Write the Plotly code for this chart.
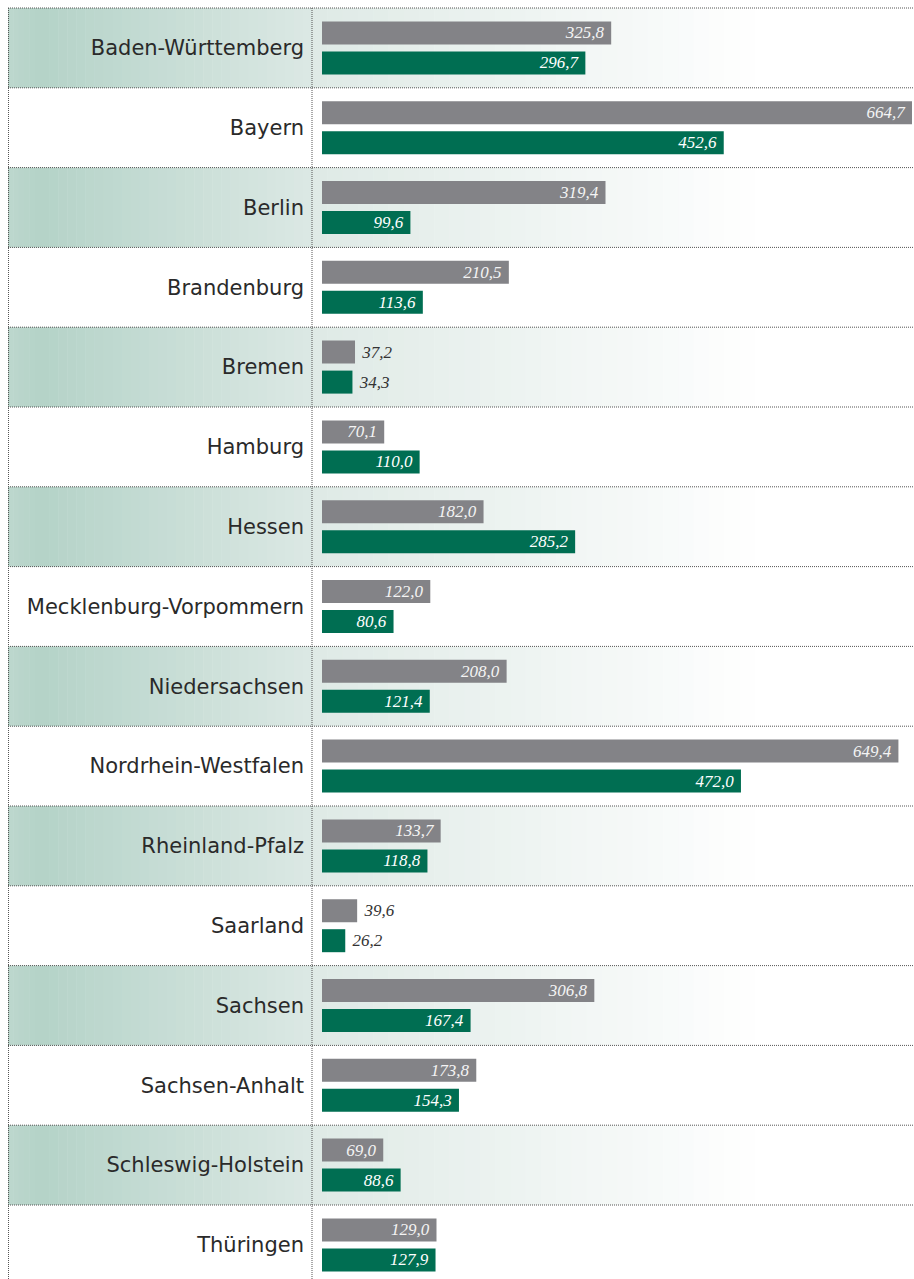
import plotly.graph_objects as go

states = ["Baden-Württemberg", "Bayern", "Berlin", "Brandenburg", "Bremen", "Hamburg",
          "Hessen", "Mecklenburg-Vorpommern", "Niedersachsen", "Nordrhein-Westfalen",
          "Rheinland-Pfalz", "Saarland", "Sachsen", "Sachsen-Anhalt", "Schleswig-Holstein",
          "Thüringen"]
gray_values = [325.8, 664.7, 319.4, 210.5, 37.2, 70.1, 182.0, 122.0, 208.0, 649.4,
               133.7, 39.6, 306.8, 173.8, 69.0, 129.0]
green_values = [296.7, 452.6, 99.6, 113.6, 34.3, 110.0, 285.2, 80.6, 121.4, 472.0,
                118.8, 26.2, 167.4, 154.3, 88.6, 127.9]

W, H = 914, 1279
PL, PR = 322, 912          # plot area in pixels
PW = PR - PL
ROW_H = 79.8
ROW_TOP0 = 8.0
NBSP = "\u00a0"

def px2paper(px):
    return (px - PL) / PW

def fmt(v):
    return f"{v:.1f}".replace(".", ",")

def texts_and_pos(vals, thresh=50):
    t, p = [], []
    for v in vals:
        if v < thresh:
            t.append(NBSP + fmt(v)); p.append("outside")
        else:
            t.append(fmt(v) + NBSP); p.append("inside")
    return t, p

idx = list(range(len(states)))
bw = 23 / ROW_H
off = 15 / ROW_H

gt, gp = texts_and_pos(gray_values)
nt, npos = texts_and_pos(green_values)

valfont = dict(family="Liberation Serif", size=17, style="italic")

fig = go.Figure()
fig.add_trace(go.Bar(
    y=idx, x=gray_values, orientation="h", marker=dict(color="#838387", line=dict(width=0)),
    width=bw, offset=-off - bw / 2, text=gt, textposition=gp, insidetextanchor="end",
    insidetextfont=dict(color="#f4f4f4", **valfont), outsidetextfont=dict(color="#333333", **valfont),
    constraintext="none", cliponaxis=False, hoverinfo="skip"))
fig.add_trace(go.Bar(
    y=idx, x=green_values, orientation="h", marker=dict(color="#006e52", line=dict(width=0)),
    width=bw, offset=off - bw / 2, text=nt, textposition=npos, insidetextanchor="end",
    insidetextfont=dict(color="#ffffff", **valfont), outsidetextfont=dict(color="#333333", **valfont),
    constraintext="none", cliponaxis=False, hoverinfo="skip"))

shapes = []

def lerp(c1, c2, t):
    a = [int(c1[i:i + 2], 16) for i in (1, 3, 5)]
    b = [int(c2[i:i + 2], 16) for i in (1, 3, 5)]
    return "#" + "".join(f"{round(a[k] + (b[k] - a[k]) * t):02x}" for k in range(3))

def gradient(x_start, x_end, c1, c2, n, y0, y1):
    for s in range(n):
        x0 = x_start + (x_end - x_start) * s / n
        x1 = x_start + (x_end - x_start) * (s + 1) / n + 0.5
        shapes.append(dict(type="rect", xref="paper", yref="y", x0=px2paper(x0), x1=px2paper(x1),
                           y0=y0, y1=y1, fillcolor=lerp(c1, c2, s / max(n - 1, 1)),
                           line=dict(width=0), layer="below"))

# gradient backgrounds on alternating rows
for i in idx:
    if i % 2 != 0:
        continue
    y0, y1 = i - 0.5, i + 0.5
    gradient(8, 40, "#bcd7cd", "#b5d3c8", 6, y0, y1)
    gradient(40, 312, "#b5d3c8", "#dbe8e4", 30, y0, y1)
    gradient(312, 770, "#dfeae6", "#ffffff", 30, y0, y1)

dot = dict(color="#555555", width=1, dash="1px,1px")
for i in idx:
    shapes.append(dict(type="line", xref="paper", yref="y", x0=px2paper(8), x1=px2paper(914),
                       y0=i - 0.5, y1=i - 0.5, line=dot, layer="above"))
for xp in (8.5, 312):
    shapes.append(dict(type="line", xref="paper", yref="y", x0=px2paper(xp), x1=px2paper(xp),
                       y0=-0.5, y1=len(states) + 1, line=dot, layer="above"))

y_top = -(ROW_TOP0 + ROW_H / 2) / ROW_H
y_bot = y_top + H / ROW_H

fig.update_layout(
    width=W, height=H, margin=dict(l=PL, r=W - PR, t=0, b=0, pad=0),
    paper_bgcolor="#ffffff", plot_bgcolor="rgba(0,0,0,0)",
    barmode="overlay", showlegend=False, shapes=shapes,
    xaxis=dict(range=[0, 664.7], showgrid=False, zeroline=False, showticklabels=False,
               showline=False, fixedrange=True),
    yaxis=dict(range=[y_bot, y_top], tickmode="array", tickvals=idx, ticktext=states,
               showgrid=False, zeroline=False, showline=False, ticks="",
               ticklabelstandoff=17,
               tickfont=dict(family="DejaVu Sans", size=21, color="#2a2a2a"), fixedrange=True),
)

fig.write_html("out.html")
